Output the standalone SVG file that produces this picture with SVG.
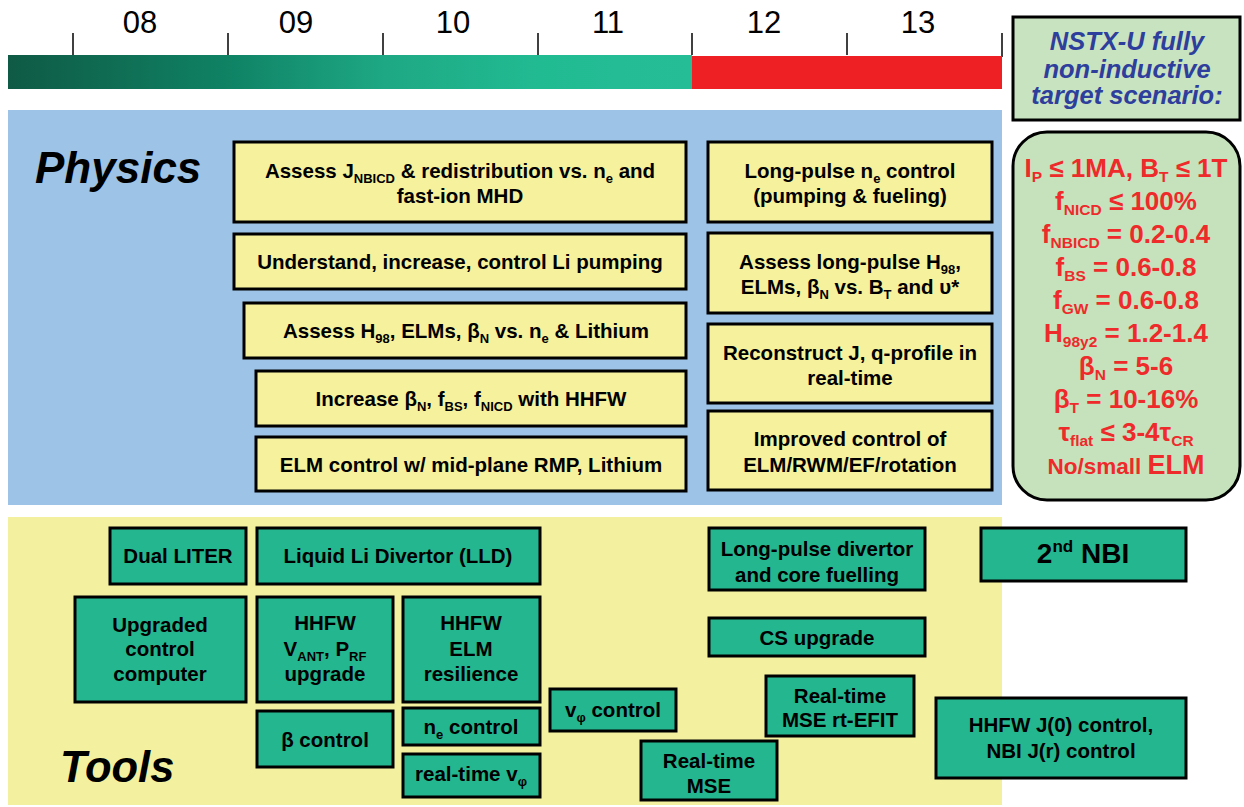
<svg xmlns="http://www.w3.org/2000/svg" width="1244" height="807" viewBox="0 0 1244 807">
<defs>
<linearGradient id="tl" gradientUnits="userSpaceOnUse" x1="8" y1="0" x2="692" y2="0">
<stop offset="0" stop-color="#0f5a45"/>
<stop offset="0.32" stop-color="#0f8264"/>
<stop offset="0.55" stop-color="#1ea884"/>
<stop offset="0.78" stop-color="#21bb92"/>
<stop offset="1" stop-color="#25bd96"/>
</linearGradient>
<style>
.pbox{fill:#f5f19c;stroke:#000;stroke-width:3}
.tbox{fill:#24b68f;stroke:#000;stroke-width:3}
.t{font-family:"Liberation Sans",Arial,sans-serif;font-weight:bold;font-size:20.5px;text-anchor:middle;fill:#000}
.s{font-size:13px}
.yr{font-family:"Liberation Sans",Arial,sans-serif;font-size:31px;text-anchor:middle;fill:#000}
.tick{stroke:#000;stroke-width:1.5}
.big{font-family:"Liberation Sans",Arial,sans-serif;font-weight:bold;font-style:italic;font-size:44px;fill:#000}
.blue{font-family:"Liberation Sans",Arial,sans-serif;font-weight:bold;font-style:italic;font-size:25.5px;text-anchor:middle;fill:#2e3e9c}
.red{font-family:"Liberation Sans",Arial,sans-serif;font-weight:bold;font-size:26px;text-anchor:middle;fill:#ee2a2a}
.rs{font-size:15.5px}
</style>
</defs>
<rect width="1244" height="807" fill="#fff"/>
<g id="timeline">
<text class="yr" x="140" y="33">08</text>
<text class="yr" x="296" y="33">09</text>
<text class="yr" x="453" y="33">10</text>
<text class="yr" x="608" y="33">11</text>
<text class="yr" x="764" y="33">12</text>
<text class="yr" x="918" y="33">13</text>
<line class="tick" x1="73" y1="33" x2="73" y2="55"/>
<line class="tick" x1="228" y1="33" x2="228" y2="55"/>
<line class="tick" x1="383" y1="33" x2="383" y2="55"/>
<line class="tick" x1="538" y1="33" x2="538" y2="55"/>
<line class="tick" x1="692" y1="33" x2="692" y2="55"/>
<line class="tick" x1="847" y1="33" x2="847" y2="55"/>
<line class="tick" x1="1002" y1="33" x2="1002" y2="57"/>
<rect x="8" y="55" width="684" height="34" fill="url(#tl)"/>
<rect x="692" y="56" width="310" height="33" fill="#ee2024"/>
</g>
<g id="physics-panel">
<rect x="8" y="110" width="994" height="395" fill="#9dc3e6"/>
<text class="big" x="35" y="183">Physics</text>
</g>
<g id="tools-panel">
<rect x="8" y="517" width="994" height="288" fill="#f3f09f"/>
<text class="big" x="60" y="782" style="font-size:43.5px">Tools</text>
</g>
<g id="connectors"/>
<g id="p1"><rect class="pbox" x="234" y="142" width="452" height="80"/>
<text class="t" x="460" y="178">Assess J<tspan class="s" dy="5">NBICD</tspan><tspan dy="-5"> &amp; redistribution vs. n</tspan><tspan class="s" dy="5">e</tspan><tspan dy="-5"> and</tspan></text>
<text class="t" x="460" y="203">fast-ion MHD</text></g>
<g id="p2"><rect class="pbox" x="234" y="234" width="452" height="55"/>
<text class="t" x="460" y="269">Understand, increase, control Li pumping</text></g>
<g id="p3"><rect class="pbox" x="244" y="303" width="442" height="55"/>
<text class="t" x="466" y="338">Assess H<tspan class="s" dy="5">98</tspan><tspan dy="-5">, ELMs, β</tspan><tspan class="s" dy="5">N</tspan><tspan dy="-5"> vs. n</tspan><tspan class="s" dy="5">e</tspan><tspan dy="-5">  &amp; Lithium</tspan></text></g>
<g id="p4"><rect class="pbox" x="256" y="371" width="430" height="55"/>
<text class="t" x="471" y="406">Increase β<tspan class="s" dy="5">N</tspan><tspan dy="-5">, f</tspan><tspan class="s" dy="5">BS</tspan><tspan dy="-5">, f</tspan><tspan class="s" dy="5">NICD</tspan><tspan dy="-5"> with HHFW</tspan></text></g>
<g id="p5"><rect class="pbox" x="256" y="437" width="430" height="54"/>
<text class="t" x="471" y="472">ELM control w/ mid-plane RMP, Lithium</text></g>
<g id="p6"><rect class="pbox" x="708" y="142" width="284" height="80"/>
<text class="t" x="850" y="178">Long-pulse n<tspan class="s" dy="5">e</tspan><tspan dy="-5"> control</tspan></text>
<text class="t" x="850" y="203">(pumping &amp; fueling)</text></g>
<g id="p7"><rect class="pbox" x="708" y="233" width="284" height="80"/>
<text class="t" x="850" y="269">Assess long-pulse H<tspan class="s" dy="5">98</tspan><tspan dy="-5">,</tspan></text>
<text class="t" x="850" y="294">ELMs, β<tspan class="s" dy="5">N</tspan><tspan dy="-5"> vs. B</tspan><tspan class="s" dy="5">T</tspan><tspan dy="-5"> and υ*</tspan></text></g>
<g id="p8"><rect class="pbox" x="708" y="324" width="284" height="79"/>
<text class="t" x="850" y="360">Reconstruct J, q-profile in</text>
<text class="t" x="850" y="385">real-time</text></g>
<g id="p9"><rect class="pbox" x="708" y="411" width="284" height="79"/>
<text class="t" x="850" y="446">Improved control of</text>
<text class="t" x="850" y="472">ELM/RWM/EF/rotation</text></g>
<g id="target-title"><rect x="1013" y="17" width="227" height="103" fill="#c8e3c0" stroke="#000" stroke-width="3"/>
<text class="blue" x="1127" y="50">NSTX-U fully</text>
<text class="blue" x="1127" y="78">non-inductive</text>
<text class="blue" x="1127" y="104">target scenario:</text></g>
<g id="target-params"><rect x="1013" y="132" width="227" height="368" rx="34" fill="#c5e2bc" stroke="#000" stroke-width="3"/>
<text class="red" x="1126" y="177">I<tspan class="rs" dy="5">P</tspan><tspan dy="-5"> ≤ 1MA, B</tspan><tspan class="rs" dy="5">T</tspan><tspan dy="-5"> ≤ 1T</tspan></text>
<text class="red" x="1126" y="210">f<tspan class="rs" dy="5">NICD</tspan><tspan dy="-5"> ≤ 100%</tspan></text>
<text class="red" x="1126" y="243">f<tspan class="rs" dy="5">NBICD</tspan><tspan dy="-5"> = 0.2-0.4</tspan></text>
<text class="red" x="1126" y="276">f<tspan class="rs" dy="5">BS</tspan><tspan dy="-5">  = 0.6-0.8</tspan></text>
<text class="red" x="1126" y="309">f<tspan class="rs" dy="5">GW</tspan><tspan dy="-5">  = 0.6-0.8</tspan></text>
<text class="red" x="1126" y="342">H<tspan class="rs" dy="5">98y2</tspan><tspan dy="-5"> = 1.2-1.4</tspan></text>
<text class="red" x="1126" y="375">β<tspan class="rs" dy="5">N</tspan><tspan dy="-5"> = 5-6</tspan></text>
<text class="red" x="1126" y="408">β<tspan class="rs" dy="5">T</tspan><tspan dy="-5"> = 10-16%</tspan></text>
<text class="red" x="1126" y="441">τ<tspan class="rs" dy="5">flat</tspan><tspan dy="-5"> ≤ 3-4τ</tspan><tspan class="rs" dy="5">CR</tspan></text>
<text class="red" x="1126" y="474" style="font-size:22.5px">No/small <tspan style="font-size:27px">ELM</tspan></text></g>
<g id="t-dual-liter"><rect class="tbox" x="110" y="528" width="136" height="56"/>
<text class="t" x="178" y="563">Dual LITER</text></g>
<g id="t-lld"><rect class="tbox" x="257" y="528" width="283" height="56"/>
<text class="t" x="398" y="563">Liquid Li Divertor (LLD)</text></g>
<g id="t-computer"><rect class="tbox" x="75" y="597" width="171" height="105"/>
<text class="t" x="160" y="632">Upgraded</text>
<text class="t" x="160" y="656">control</text>
<text class="t" x="160" y="681">computer</text></g>
<g id="t-hhfw-upgrade"><rect class="tbox" x="257" y="597" width="136" height="105"/>
<text class="t" x="325" y="630">HHFW</text>
<text class="t" x="325" y="656">V<tspan class="s" dy="5">ANT</tspan><tspan dy="-5">, P</tspan><tspan class="s" dy="5">RF</tspan></text>
<text class="t" x="325" y="681">upgrade</text></g>
<g id="t-hhfw-elm"><rect class="tbox" x="403" y="597" width="137" height="105"/>
<text class="t" x="471" y="630">HHFW</text>
<text class="t" x="471" y="656">ELM</text>
<text class="t" x="471" y="681">resilience</text></g>
<g id="t-beta"><rect class="tbox" x="257" y="711" width="136" height="56"/>
<text class="t" x="325" y="747">β control</text></g>
<g id="t-ne"><rect class="tbox" x="403" y="708" width="137" height="37"/>
<text class="t" x="471" y="734">n<tspan class="s" dy="5">e</tspan><tspan dy="-5"> control</tspan></text></g>
<g id="t-rtv"><rect class="tbox" x="403" y="754" width="137" height="43"/>
<text class="t" x="471" y="781">real-time v<tspan class="s" dy="5">φ</tspan></text></g>
<g id="t-vcontrol"><rect class="tbox" x="550" y="689" width="126" height="42"/>
<text class="t" x="613" y="717">v<tspan class="s" dy="5">φ</tspan><tspan dy="-5"> control</tspan></text></g>
<g id="t-rtmse"><rect class="tbox" x="641" y="741" width="136" height="59"/>
<text class="t" x="709" y="768">Real-time</text>
<text class="t" x="709" y="793">MSE</text></g>
<g id="t-rtefit"><rect class="tbox" x="766" y="676" width="148" height="60"/>
<text class="t" x="840" y="703">Real-time</text>
<text class="t" x="840" y="727">MSE rt-EFIT</text></g>
<g id="t-cs"><rect class="tbox" x="709" y="618" width="216" height="38"/>
<text class="t" x="817" y="645">CS upgrade</text></g>
<g id="t-divertor"><rect class="tbox" x="709" y="528" width="216" height="62"/>
<text class="t" x="817" y="556">Long-pulse divertor</text>
<text class="t" x="817" y="582">and core fuelling</text></g>
<g id="t-nbi"><rect class="tbox" x="981" y="528" width="205" height="53"/>
<text class="t" x="1083" y="563" style="font-size:28px">2<tspan style="font-size:17px" dy="-11">nd</tspan><tspan dy="11"> NBI</tspan></text></g>
<g id="t-jcontrol"><rect class="tbox" x="936" y="698" width="250" height="80"/>
<text class="t" x="1061" y="732">HHFW J(0) control,</text>
<text class="t" x="1061" y="758">NBI J(r) control</text></g>
</svg>
